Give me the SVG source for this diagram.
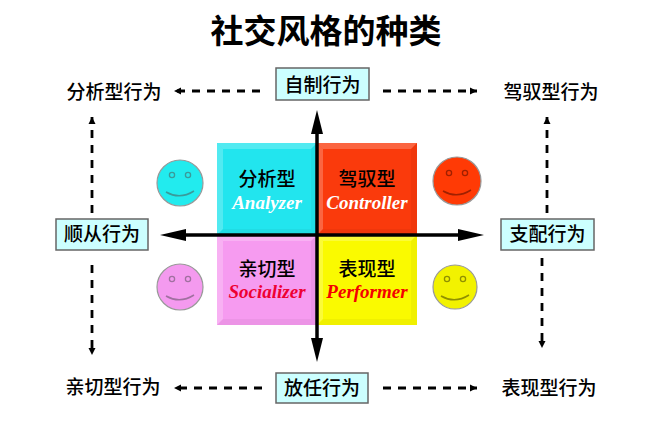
<svg xmlns="http://www.w3.org/2000/svg" width="653" height="433" viewBox="0 0 653 433">
<defs>
<style>
.cjk{font-family:"Noto Sans CJK SC","Liberation Sans",sans-serif;fill:#000;font-weight:500;}
.title{font-size:33px;font-weight:bold;}
.lbl{font-size:19px;}
.q{font-size:19px;text-anchor:middle;}
.en{font-family:"Liberation Serif",serif;font-style:italic;font-weight:bold;font-size:19px;text-anchor:middle;}
.box{fill:#CCFFFF;stroke:#666;stroke-width:1.5;}
.dash{stroke:#000;stroke-width:2.8;stroke-dasharray:8 7;fill:none;}
.axis{stroke:#000;stroke-width:3.5;}
.face{stroke:#999;stroke-width:1.2;}
.hl{fill:#fff;opacity:0.22;}
.sh{fill:#000;opacity:0.04;}
</style>
<marker id="ah" markerUnits="userSpaceOnUse" markerWidth="10" markerHeight="10" viewBox="0 0 10 10" refX="9" refY="5" orient="auto">
<path d="M2,1.5 L9,5 L2,8.5 Z" fill="#000"/>
</marker>
</defs>
<rect width="653" height="433" fill="#fff"/>
<text class="cjk title" x="326" y="43" text-anchor="middle">社交风格的种类</text>

<g id="quadrant-analyzer">
<rect x="217" y="143" width="100" height="92" fill="#22E5EE"/>
<polygon class="hl" points="217,143 317,143 311,149 223,149"/>
<polygon class="hl" points="217,143 223,149 223,229 217,235"/>
<polygon class="sh" points="317,143 317,235 311,229 311,149"/>
<polygon class="sh" points="217,235 317,235 311,229 223,229"/>
<text class="cjk q" x="267" y="186">分析型</text>
<text class="en" x="267" y="209" fill="#fff">Analyzer</text>
</g>
<g id="quadrant-controller">
<rect x="317" y="143" width="100" height="92" fill="#FA3A0C"/>
<polygon class="hl" points="317,143 417,143 411,149 323,149"/>
<polygon class="hl" points="317,143 323,149 323,229 317,235"/>
<polygon class="sh" points="417,143 417,235 411,229 411,149"/>
<polygon class="sh" points="317,235 417,235 411,229 323,229"/>
<text class="cjk q" x="367" y="186">驾驭型</text>
<text class="en" x="367" y="209" fill="#fff">Controller</text>
</g>
<g id="quadrant-socializer">
<rect x="217" y="235" width="100" height="90" fill="#F69BF0"/>
<polygon class="hl" points="217,235 317,235 311,241 223,241"/>
<polygon class="hl" points="217,235 223,241 223,319 217,325"/>
<polygon class="sh" points="317,235 317,325 311,319 311,241"/>
<polygon class="sh" points="217,325 317,325 311,319 223,319"/>
<text class="cjk q" x="267" y="276">亲切型</text>
<text class="en" x="267" y="298" fill="#EE0033">Socializer</text>
</g>
<g id="quadrant-performer">
<rect x="317" y="235" width="100" height="90" fill="#FAFA00"/>
<polygon class="hl" points="317,235 417,235 411,241 323,241"/>
<polygon class="hl" points="317,235 323,241 323,319 317,325"/>
<polygon class="sh" points="417,235 417,325 411,319 411,241"/>
<polygon class="sh" points="317,325 417,325 411,319 323,319"/>
<text class="cjk q" x="367" y="276">表现型</text>
<text class="en" x="367" y="298" fill="#F40000">Performer</text>
</g>

<g id="face-cyan">
<circle class="face" cx="180" cy="183" r="23" fill="#22EBEE"/>
<circle cx="172" cy="175" r="2.6" fill="none" stroke="#3A9A9A" stroke-width="1.3"/>
<circle cx="188" cy="175" r="2.6" fill="none" stroke="#3A9A9A" stroke-width="1.3"/>
<path d="M166,192 Q180,200 194,191" fill="none" stroke="#3A9A9A" stroke-width="1.5"/>
</g>
<g id="face-red">
<circle class="face" cx="457" cy="181" r="24" fill="#FF3A05"/>
<circle cx="449" cy="173" r="2.6" fill="none" stroke="#A02000" stroke-width="1.3"/>
<circle cx="465" cy="173" r="2.6" fill="none" stroke="#A02000" stroke-width="1.3"/>
<path d="M443,191 Q457,199 471,190" fill="none" stroke="#A02000" stroke-width="1.5"/>
</g>
<g id="face-pink">
<circle class="face" cx="180" cy="287" r="23" fill="#F49AEF"/>
<circle cx="172" cy="279" r="2.6" fill="none" stroke="#A070A0" stroke-width="1.3"/>
<circle cx="188" cy="279" r="2.6" fill="none" stroke="#A070A0" stroke-width="1.3"/>
<path d="M166,296 Q180,304 194,295" fill="none" stroke="#A070A0" stroke-width="1.5"/>
</g>
<g id="face-yellow">
<circle class="face" cx="455" cy="287" r="22" fill="#F2F200"/>
<circle cx="447" cy="279" r="2.6" fill="none" stroke="#909000" stroke-width="1.3"/>
<circle cx="463" cy="279" r="2.6" fill="none" stroke="#909000" stroke-width="1.3"/>
<path d="M441,296 Q455,304 469,295" fill="none" stroke="#909000" stroke-width="1.5"/>
</g>

<g id="connectors">
<line class="axis" x1="317" y1="130" x2="317" y2="342"/>
<polygon points="317,110 311,134 323,134" fill="#000"/>
<polygon points="317,362 311,338 323,338" fill="#000"/>
<line class="axis" x1="180" y1="235" x2="464" y2="235"/>
<polygon points="160,235 186,229 186,241" fill="#000"/>
<polygon points="484,235 458,229 458,241" fill="#000"/>

<line class="dash" x1="260" y1="91" x2="174" y2="91" marker-end="url(#ah)"/>
<line class="dash" x1="383" y1="91" x2="477" y2="91" marker-end="url(#ah)"/>
<line class="dash" x1="262" y1="388" x2="174" y2="388" marker-end="url(#ah)"/>
<line class="dash" x1="383" y1="388" x2="477" y2="388" marker-end="url(#ah)"/>
<line class="dash" x1="92" y1="213" x2="92" y2="117" marker-end="url(#ah)"/>
<line class="dash" x1="92" y1="265" x2="92" y2="355" marker-end="url(#ah)"/>
<line class="dash" x1="547" y1="213" x2="547" y2="117" marker-end="url(#ah)"/>
<line class="dash" x1="542" y1="258" x2="542" y2="348" marker-end="url(#ah)"/>
</g>

<g id="node-top">
<rect class="box" x="276" y="68" width="93" height="32"/>
<text class="cjk lbl" x="322.5" y="92" text-anchor="middle">自制行为</text>
</g>
<g id="node-bottom">
<rect class="box" x="276" y="373" width="92" height="30"/>
<text class="cjk lbl" x="322" y="395" text-anchor="middle">放任行为</text>
</g>
<g id="node-left">
<rect class="box" x="56" y="219" width="92" height="31"/>
<text class="cjk lbl" x="102" y="241" text-anchor="middle">顺从行为</text>
</g>
<g id="node-right">
<rect class="box" x="501" y="219" width="93" height="31"/>
<text class="cjk lbl" x="547.5" y="241" text-anchor="middle">支配行为</text>
</g>
<g id="label-tl"><text class="cjk lbl" x="114" y="99" text-anchor="middle">分析型行为</text></g>
<g id="label-tr"><text class="cjk lbl" x="551" y="99" text-anchor="middle">驾驭型行为</text></g>
<g id="label-bl"><text class="cjk lbl" x="113" y="394" text-anchor="middle">亲切型行为</text></g>
<g id="label-br"><text class="cjk lbl" x="549" y="395" text-anchor="middle">表现型行为</text></g>
</svg>
